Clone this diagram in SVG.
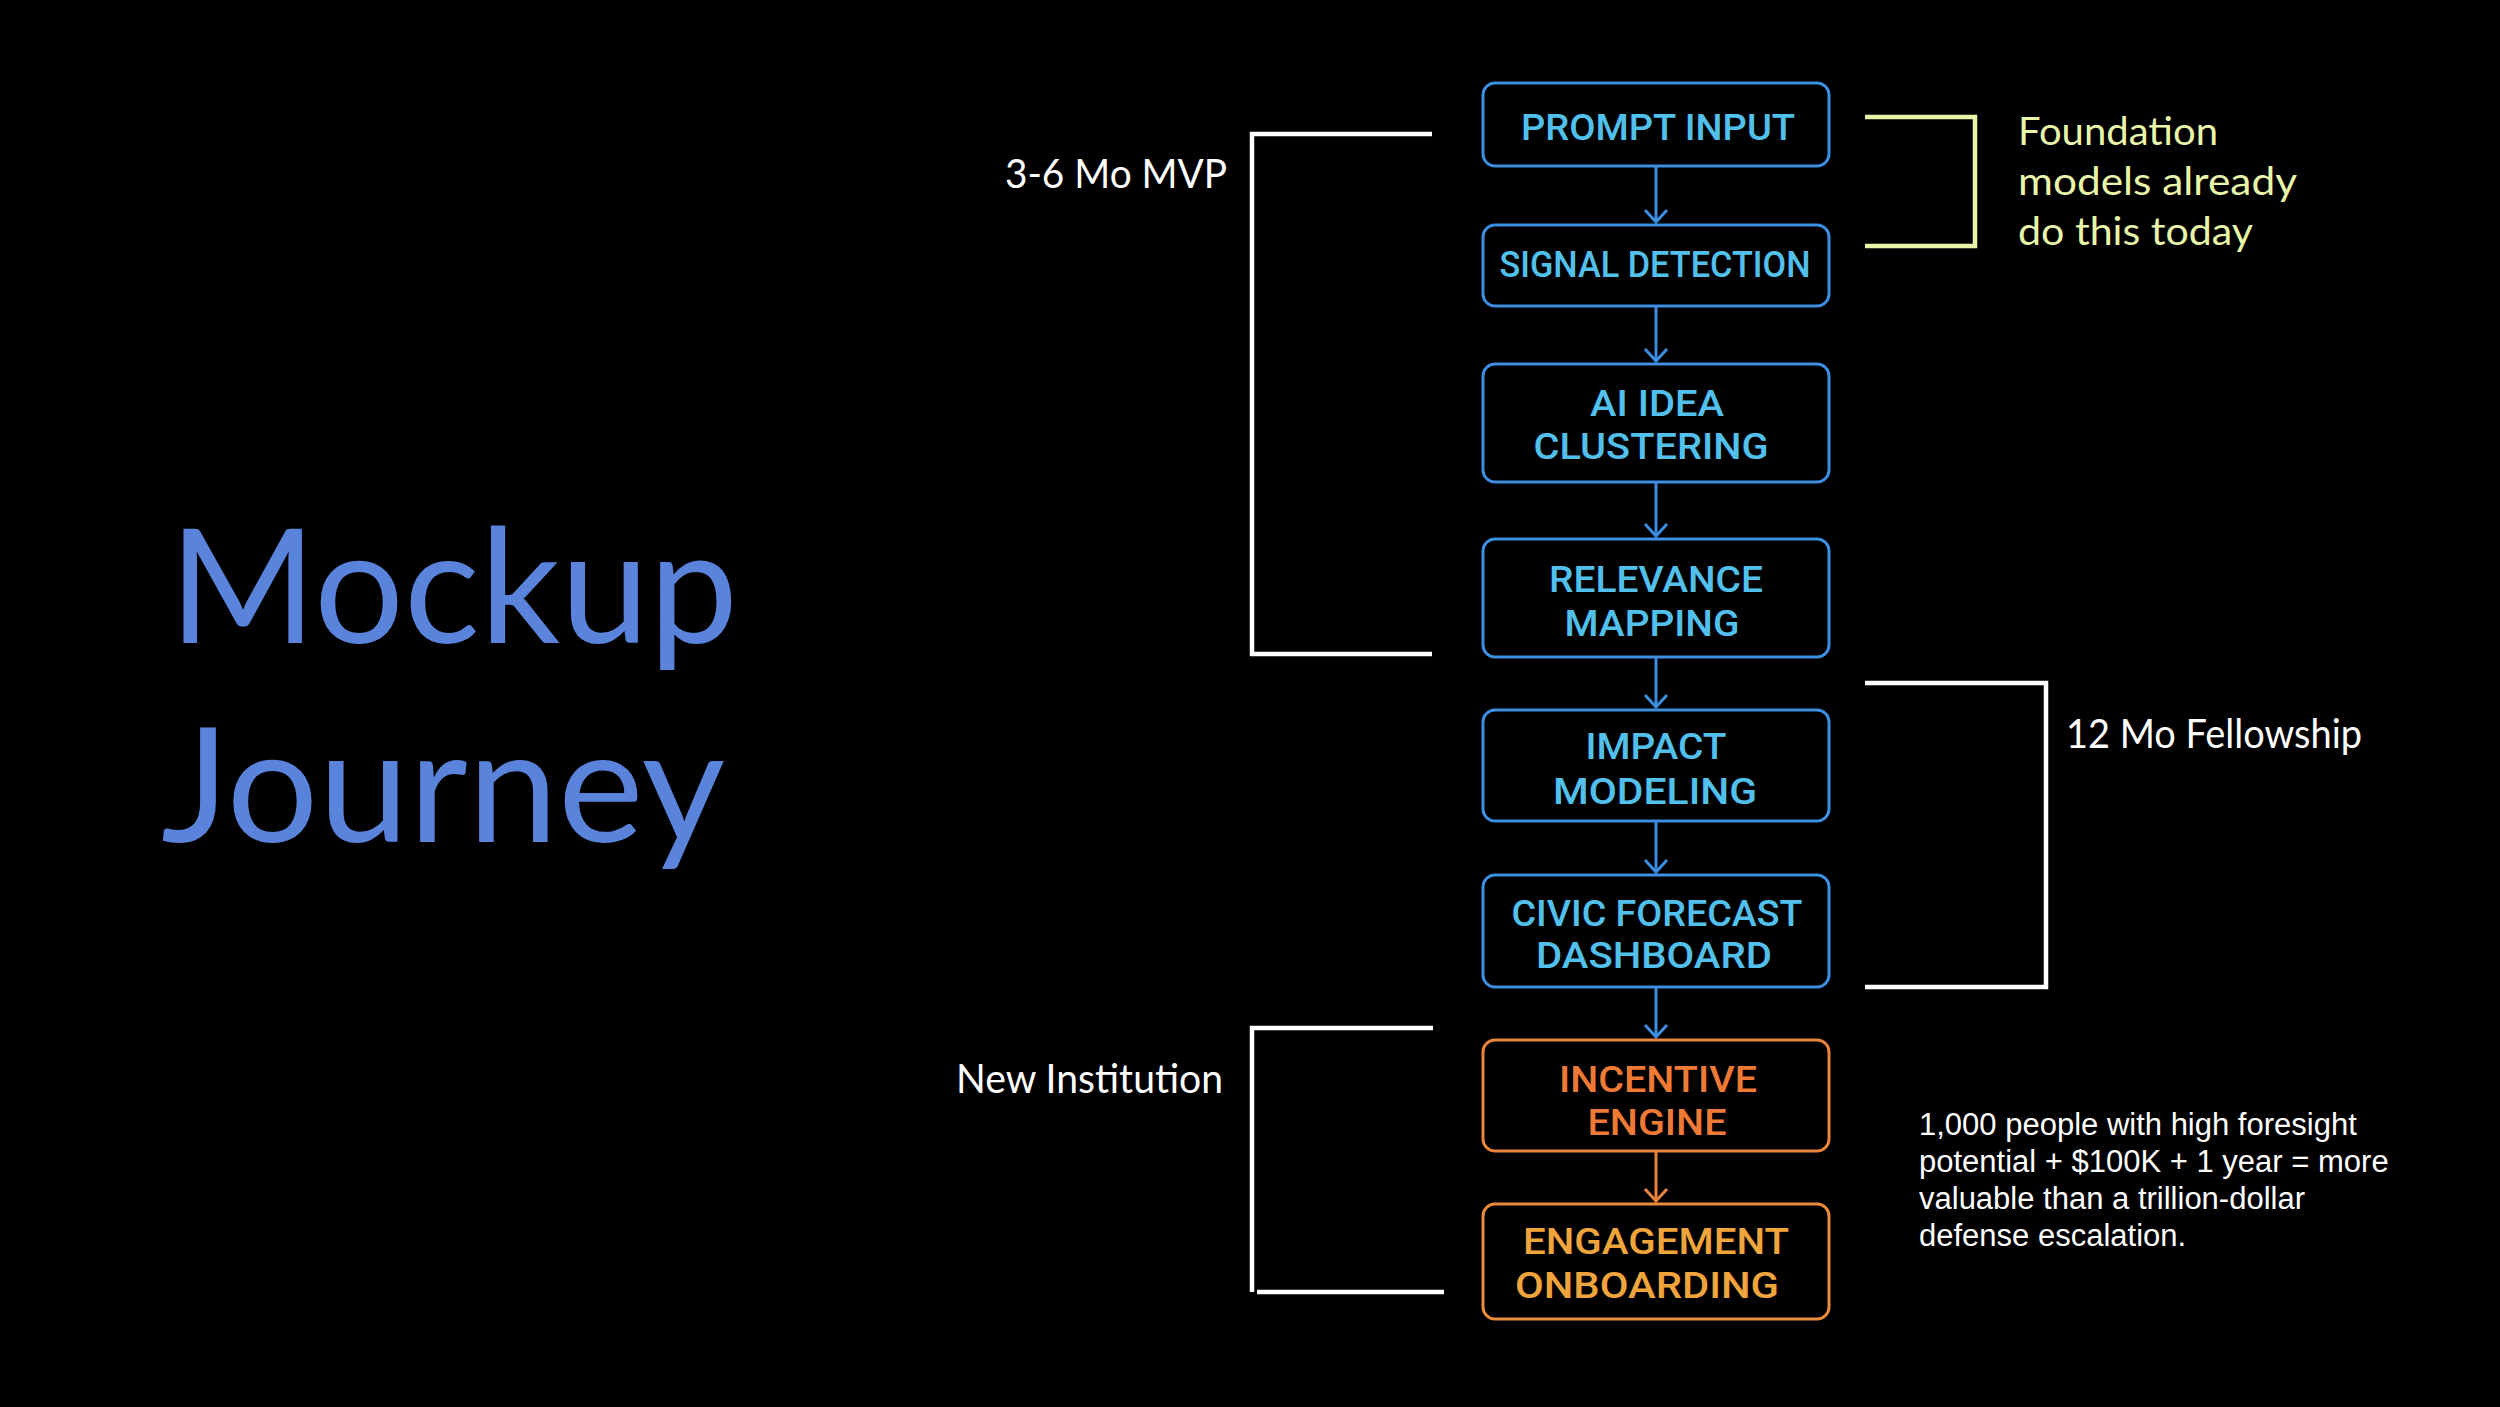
<svg xmlns="http://www.w3.org/2000/svg" width="2500" height="1407" viewBox="0 0 2500 1407">
<style>
.bg{fill:#000}
.boxB{fill:#000;stroke:#3d8de0;stroke-width:3}
.boxO{fill:#000;stroke:#e8843c;stroke-width:3}
.boxA{fill:#000;stroke:#e98c3c;stroke-width:3}
.t{font-family:Roboto,"Noto Sans",sans-serif;font-size:36px;font-weight:500;text-anchor:middle}
.tB{fill:#52c0ec}
.tO{fill:#ef7a35}
.tA{fill:#f0a43c}
.lbl{font-family:Lato,"Noto Sans",sans-serif;font-size:40px;fill:#ffffff}
.found{font-family:Lato,"Noto Sans",sans-serif;font-size:39px;fill:#e9f5a9}
.para{font-family:"Liberation Sans",Arial,sans-serif;font-size:31px;fill:#ffffff}
.title{font-family:Lato,"Noto Sans",sans-serif;font-size:160px;fill:#5a84dc}
.brW{fill:none;stroke:#ffffff;stroke-width:4.5}
.brY{fill:none;stroke:#e9f5a9;stroke-width:4.5}
.arB{fill:none;stroke:#3d8de0;stroke-width:3;marker-end:url(#chevB)}
.arO{fill:none;stroke:#e8843c;stroke-width:3;marker-end:url(#chevO)}
</style>
<defs>
<marker id="chevB" viewBox="-14 -13 16 26" refX="0" refY="0" markerWidth="16" markerHeight="26" markerUnits="userSpaceOnUse" orient="auto">
<path d="M-12,-11 L0,0 L-12,11" fill="none" stroke="#3d8de0" stroke-width="3"/>
</marker>
<marker id="chevO" viewBox="-14 -13 16 26" refX="0" refY="0" markerWidth="16" markerHeight="26" markerUnits="userSpaceOnUse" orient="auto">
<path d="M-12,-11 L0,0 L-12,11" fill="none" stroke="#e8843c" stroke-width="3"/>
</marker>
</defs>
<rect class="bg" x="0" y="0" width="2500" height="1407"/>

<g id="title">
<text class="title" x="169" y="643" textLength="569" lengthAdjust="spacingAndGlyphs">Mockup</text>
<text class="title" x="161" y="842" textLength="564" lengthAdjust="spacingAndGlyphs">Journey</text>
</g>

<g id="connectors">
<line class="arB" x1="1656" y1="167" x2="1656" y2="222"/>
<line class="arB" x1="1656" y1="307" x2="1656" y2="361"/>
<line class="arB" x1="1656" y1="483" x2="1656" y2="536"/>
<line class="arB" x1="1656" y1="658" x2="1656" y2="707"/>
<line class="arB" x1="1656" y1="822" x2="1656" y2="872"/>
<line class="arB" x1="1656" y1="988" x2="1656" y2="1037"/>
<line class="arO" x1="1656" y1="1152" x2="1656" y2="1201"/>
</g>

<g id="prompt-input">
<rect class="boxB" x="1483" y="83" width="346" height="83" rx="12"/>
<text class="t tB" x="1658" y="140" textLength="274" lengthAdjust="spacingAndGlyphs">PROMPT INPUT</text>
</g>
<g id="signal-detection">
<rect class="boxB" x="1483" y="225" width="346" height="81" rx="12"/>
<text class="t tB" x="1655" y="277" textLength="311" lengthAdjust="spacingAndGlyphs">SIGNAL DETECTION</text>
</g>
<g id="ai-idea-clustering">
<rect class="boxB" x="1483" y="364" width="346" height="118" rx="12"/>
<text class="t tB" x="1657" y="416" textLength="134" lengthAdjust="spacingAndGlyphs">AI IDEA</text>
<text class="t tB" x="1651" y="459" textLength="235" lengthAdjust="spacingAndGlyphs">CLUSTERING</text>
</g>
<g id="relevance-mapping">
<rect class="boxB" x="1483" y="539" width="346" height="118" rx="12"/>
<text class="t tB" x="1656" y="592" textLength="214" lengthAdjust="spacingAndGlyphs">RELEVANCE</text>
<text class="t tB" x="1652" y="636" textLength="175" lengthAdjust="spacingAndGlyphs">MAPPING</text>
</g>
<g id="impact-modeling">
<rect class="boxB" x="1483" y="710" width="346" height="111" rx="12"/>
<text class="t tB" x="1656" y="759" textLength="141" lengthAdjust="spacingAndGlyphs">IMPACT</text>
<text class="t tB" x="1655" y="804" textLength="204" lengthAdjust="spacingAndGlyphs">MODELING</text>
</g>
<g id="civic-forecast-dashboard">
<rect class="boxB" x="1483" y="875" width="346" height="112" rx="12"/>
<text class="t tB" x="1657" y="926" textLength="291" lengthAdjust="spacingAndGlyphs">CIVIC FORECAST</text>
<text class="t tB" x="1654" y="968" textLength="236" lengthAdjust="spacingAndGlyphs">DASHBOARD</text>
</g>
<g id="incentive-engine">
<rect class="boxO" x="1483" y="1040" width="346" height="111" rx="12"/>
<text class="t tO" x="1658" y="1092" textLength="198" lengthAdjust="spacingAndGlyphs">INCENTIVE</text>
<text class="t tO" x="1657" y="1135" textLength="139" lengthAdjust="spacingAndGlyphs">ENGINE</text>
</g>
<g id="engagement-onboarding">
<rect class="boxA" x="1483" y="1204" width="346" height="115" rx="12"/>
<text class="t tA" x="1656" y="1254" textLength="266" lengthAdjust="spacingAndGlyphs">ENGAGEMENT</text>
<text class="t tA" x="1647" y="1298" textLength="264" lengthAdjust="spacingAndGlyphs">ONBOARDING</text>
</g>

<g id="bracket-mvp">
<path class="brW" d="M1432,134 H1252 V654 H1432"/>
<text class="lbl" x="1005" y="188" textLength="222" lengthAdjust="spacingAndGlyphs">3-6 Mo MVP</text>
</g>
<g id="bracket-fellowship">
<path class="brW" d="M1865,683 H2046 V987 H1865"/>
<text class="lbl" x="2066" y="748" textLength="296" lengthAdjust="spacingAndGlyphs">12 Mo Fellowship</text>
</g>
<g id="bracket-institution">
<path class="brW" d="M1433,1028 H1252 V1292"/>
<path class="brW" d="M1257,1292 H1444"/>
<text class="lbl" x="956" y="1093" textLength="267" lengthAdjust="spacingAndGlyphs">New Institution</text>
</g>
<g id="bracket-foundation">
<path class="brY" d="M1865,117 H1975 V246 H1865"/>
<text class="found" x="2018" y="145" textLength="200" lengthAdjust="spacingAndGlyphs">Foundation</text>
<text class="found" x="2018" y="195" textLength="279" lengthAdjust="spacingAndGlyphs">models already</text>
<text class="found" x="2018" y="245" textLength="235" lengthAdjust="spacingAndGlyphs">do this today</text>
</g>

<g id="note">
<text class="para" x="1919" y="1135">1,000 people with high foresight</text>
<text class="para" x="1919" y="1172">potential + $100K + 1 year = more</text>
<text class="para" x="1919" y="1209">valuable than a trillion-dollar</text>
<text class="para" x="1919" y="1246">defense escalation.</text>
</g>
</svg>
